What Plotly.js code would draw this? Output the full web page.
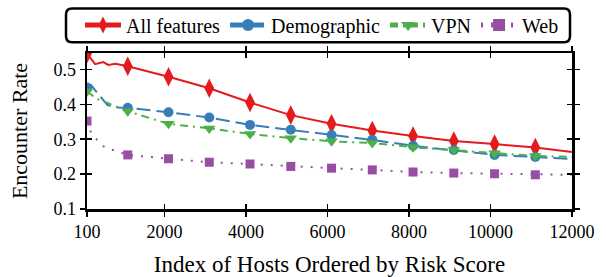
<!DOCTYPE html>
<html>
<head>
<meta charset="utf-8">
<script src="https://cdn.plot.ly/plotly-3.0.1.min.js"></script>
<style>html,body{margin:0;padding:0;background:#fff;}#chart{width:606px;height:277px;}</style>
</head>
<body>
<div id="chart"></div>
<script>
// ---- data ----
const seriesNames = ["All features", "Demographic", "VPN", "Web"];
const xAll = [100, 200, 300, 500, 620, 800, 1100, 2100, 3100, 4100, 5100, 6100, 7100, 8100, 9100, 10100, 11100, 12000];
const yAll = [0.545, 0.530, 0.515, 0.521, 0.513, 0.516, 0.509, 0.479, 0.446, 0.405, 0.369, 0.344, 0.325, 0.309, 0.295, 0.286, 0.276, 0.263];
const xDemo = [100, 200, 350, 600, 850, 1100, 2100, 3100, 4100, 5100, 6100, 7100, 8100, 9100, 10100, 11100, 12000];
const yDemo = [0.448, 0.455, 0.433, 0.398, 0.391, 0.390, 0.377, 0.362, 0.341, 0.327, 0.312, 0.298, 0.281, 0.269, 0.255, 0.249, 0.243];
const xVpn = [100, 200, 350, 600, 850, 1100, 2100, 3100, 4100, 5100, 6100, 7100, 8100, 9100, 10100, 11100, 12000];
const yVpn = [0.437, 0.428, 0.415, 0.404, 0.392, 0.380, 0.344, 0.331, 0.315, 0.303, 0.294, 0.289, 0.277, 0.269, 0.260, 0.252, 0.249];
const xWeb = [100, 200, 360, 540, 790, 1100, 2100, 3100, 4100, 5100, 6100, 7100, 8100, 9100, 10100, 11100, 12000];
const yWeb = [0.352, 0.319, 0.296, 0.276, 0.267, 0.255, 0.244, 0.234, 0.229, 0.222, 0.217, 0.212, 0.206, 0.203, 0.201, 0.198, 0.198];
const xTicks = [100, 2000, 4000, 6000, 8000, 10000, 12000];
const xTickText = ["100", "2000", "4000", "6000", "8000", "10000", "12000"];
const yTicks = [0.1, 0.2, 0.3, 0.4, 0.5];
const yTickText = ["0.1", "0.2", "0.3", "0.4", "0.5"];

// ---- styling ----
const FONT = "Liberation Serif";
const isMarker = x => x % 1000 === 100;
function mk(name, xs, ys, color, symbol, msize, dash) {
  return {
    type: "scatter", mode: "lines+markers", name: name, x: xs, y: ys,
    line: {color: color, width: 2, dash: dash},
    marker: {color: color, symbol: symbol, size: xs.map(x => isMarker(x) ? msize : 0), line: {width: 0}, opacity: 1},
    cliponaxis: true
  };
}
const traces = [
  mk(seriesNames[0], xAll, yAll, "#e41a1c", "diamond-tall", 14, "solid"),
  mk(seriesNames[1], xDemo, yDemo, "#377eb8", "circle", 10, "14px,6px"),
  mk(seriesNames[2], xVpn, yVpn, "#4daf4a", "triangle-down", 11, "8px,5px,2px,5px"),
  mk(seriesNames[3], xWeb, yWeb, "#984ea3", "square", 9, "2px,8px"),
  {type: "scatter", x: [], y: [], xaxis: "x2", yaxis: "y2", showlegend: false, hoverinfo: "skip"}
];

// legend rounded box in paper coords
const W = 606, H = 277;
const L = 87, R = 572, T = 52.7, B = 209.3;
const pw = R - L, ph = B - T;
const px = v => (v - L) / pw, py = v => (B - v) / ph;
const bx0 = px(66), bx1 = px(570), by0 = py(42), by1 = py(8);
const rx = 6 / pw, ry = 6 / ph;
const boxPath = `M ${bx0+rx},${by1} L ${bx1-rx},${by1} Q ${bx1},${by1} ${bx1},${by1-ry} L ${bx1},${by0+ry} Q ${bx1},${by0} ${bx1-rx},${by0} L ${bx0+rx},${by0} Q ${bx0},${by0} ${bx0},${by0+ry} L ${bx0},${by1-ry} Q ${bx0},${by1} ${bx0+rx},${by1} Z`;

const axCommon = {showgrid: false, zeroline: false, tickcolor: "#000", tickwidth: 1.5, ticklen: 5, mirror: "allticks", automargin: false};
const layout = {
  width: W, height: H,
  margin: {l: L, r: W - R, t: T, b: H - B, autoexpand: false},
  paper_bgcolor: "#fff", plot_bgcolor: "#fff",
  font: {family: FONT, color: "#000", size: 18},
  showlegend: true,
  legend: {orientation: "h", xref: "container", yref: "container", x: 322 / W, xanchor: "center", y: 1 - 25 / H, yanchor: "middle",
           font: {family: FONT, size: 20, color: "#000"}, bgcolor: "rgba(0,0,0,0)", borderwidth: 0,
           itemsizing: "constant", itemwidth: 36, traceorder: "normal"},
  xaxis: Object.assign({}, axCommon, {
    range: [100, 12000], tickmode: "array", tickvals: xTicks, ticktext: xTickText, ticks: "outside",
    showline: true, linecolor: "#000", linewidth: 2.5,
    tickfont: {family: FONT, size: 18},
    title: {text: "Index of Hosts Ordered by Risk Score", font: {family: FONT, size: 23}, standoff: 15}
  }),
  yaxis: Object.assign({}, axCommon, {
    range: [0.1, 0.547], tickmode: "array", tickvals: yTicks, ticktext: yTickText, ticks: "outside",
    showline: true, linecolor: "#000", linewidth: 2.5,
    tickfont: {family: FONT, size: 18},
    title: {text: "Encounter Rate", font: {family: FONT, size: 22}, standoff: 20}
  }),
  xaxis2: Object.assign({}, axCommon, {
    overlaying: "x", anchor: "y2", range: [100, 12000], tickmode: "array", tickvals: xTicks,
    ticks: "inside", showticklabels: false, showline: false
  }),
  yaxis2: Object.assign({}, axCommon, {
    overlaying: "y", anchor: "x2", range: [0.1, 0.547], tickmode: "array", tickvals: yTicks,
    ticks: "inside", showticklabels: false, showline: false
  }),
  shapes: [{type: "path", xref: "paper", yref: "paper", path: boxPath, line: {color: "#000", width: 2.5}, fillcolor: "rgba(0,0,0,0)", layer: "above"}]
};
Plotly.newPlot("chart", traces, layout, {staticPlot: true, displayModeBar: false});
</script>
</body>
</html>
